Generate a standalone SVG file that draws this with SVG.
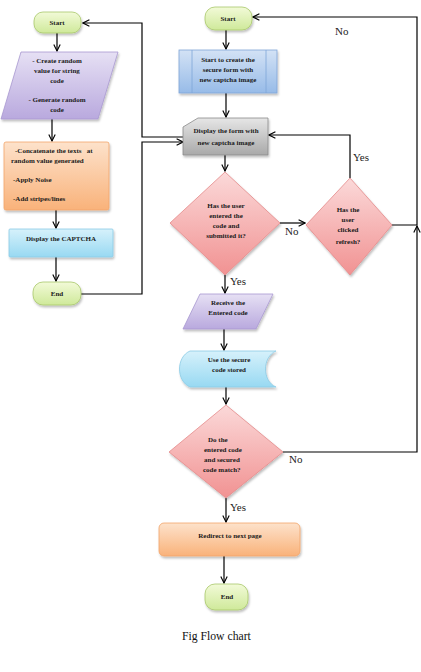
<svg xmlns="http://www.w3.org/2000/svg" width="421" height="672" viewBox="0 0 421 672">
<defs>
  <linearGradient id="gGreen" x1="0" y1="0" x2="0" y2="1"><stop offset="0" stop-color="#f2fad8"/><stop offset="1" stop-color="#cfe99a"/></linearGradient>
  <linearGradient id="gPurple" x1="0" y1="0" x2="0" y2="1"><stop offset="0" stop-color="#e6e0f4"/><stop offset="1" stop-color="#b9a9de"/></linearGradient>
  <linearGradient id="gOrange" x1="0" y1="0" x2="0" y2="1"><stop offset="0" stop-color="#fde2cb"/><stop offset="1" stop-color="#f9b27a"/></linearGradient>
  <linearGradient id="gCyan" x1="0" y1="0" x2="0" y2="1"><stop offset="0" stop-color="#d6f1fb"/><stop offset="1" stop-color="#98d9f2"/></linearGradient>
  <linearGradient id="gBlue" x1="0" y1="0" x2="0" y2="1"><stop offset="0" stop-color="#d3e2f5"/><stop offset="1" stop-color="#97bbe8"/></linearGradient>
  <linearGradient id="gGray" x1="0" y1="0" x2="0" y2="1"><stop offset="0" stop-color="#e6e6e6"/><stop offset="1" stop-color="#a9a9a9"/></linearGradient>
  <linearGradient id="gPink" x1="0" y1="0" x2="0" y2="1"><stop offset="0" stop-color="#fbd9d9"/><stop offset="1" stop-color="#f19292"/></linearGradient>
  <filter id="sh" x="-20%" y="-20%" width="140%" height="150%"><feDropShadow dx="1" dy="2" stdDeviation="1.2" flood-color="#000" flood-opacity="0.25"/></filter>
  <marker id="arr" viewBox="0 0 10 10" refX="9" refY="5" markerWidth="8" markerHeight="8" markerUnits="userSpaceOnUse" orient="auto">
    <path d="M1,1 L9,5 L1,9" fill="none" stroke="#000" stroke-width="1.4"/>
  </marker>
</defs>
<style>
  .t { font-family: "Liberation Serif", "Times New Roman", serif; font-weight: bold; font-size: 7px; fill: #1a1a1a; }
  .c { text-anchor: middle; }
  .lbl { font-family: "Liberation Serif", "Times New Roman", serif; font-size: 11px; fill: #222; }
  .cap { font-family: "Liberation Serif", "Times New Roman", serif; font-size: 11.7px; fill: #111; }
  .ln { fill: none; stroke: #000; stroke-width: 1.2; }
  .green { fill: url(#gGreen); stroke: #a8c86a; stroke-width: 0.8; filter: url(#sh); }
  .purple { fill: url(#gPurple); stroke: #a898d0; stroke-width: 0.8; filter: url(#sh); }
  .orange { fill: url(#gOrange); stroke: #f3a56a; stroke-width: 0.8; filter: url(#sh); }
  .cyan { fill: url(#gCyan); stroke: #8ccbe6; stroke-width: 0.8; filter: url(#sh); }
  .blue { fill: url(#gBlue); stroke: #7fa6d8; stroke-width: 0.8; filter: url(#sh); }
  .gray { fill: url(#gGray); stroke: #8a8a8a; stroke-width: 0.8; filter: url(#sh); }
  .pink { fill: url(#gPink); stroke: #e48a8a; stroke-width: 0.8; filter: url(#sh); }
</style>
<rect width="421" height="672" fill="#fff"/>

<g id="connectors">
  <path class="ln" d="M57,33 V51" marker-end="url(#arr)"/>
  <path class="ln" d="M52,119 V141" marker-end="url(#arr)"/>
  <path class="ln" d="M56,210 V228" marker-end="url(#arr)"/>
  <path class="ln" d="M56,257 V281" marker-end="url(#arr)"/>
  <path class="ln" d="M81,294 H142 V142 H183" marker-end="url(#arr)"/>
  <path class="ln" d="M183,137 H142 V23 H83" marker-end="url(#arr)"/>
  <path class="ln" d="M226,30 V49" marker-end="url(#arr)"/>
  <path class="ln" d="M226,93 V117" marker-end="url(#arr)"/>
  <path class="ln" d="M225,155 V171" marker-end="url(#arr)"/>
  <path class="ln" d="M280,223 H305" marker-end="url(#arr)"/>
  <path class="ln" d="M350,178 V135 H269" marker-end="url(#arr)"/>
  <path class="ln" d="M392,225 H417 V17 H253" marker-end="url(#arr)"/>
  <path class="ln" d="M283,452 H417 V226" marker-end="url(#arr)"/>
  <path class="ln" d="M225,275 V293" marker-end="url(#arr)"/>
  <path class="ln" d="M224,329 V350" marker-end="url(#arr)"/>
  <path class="ln" d="M226,387 V404" marker-end="url(#arr)"/>
  <path class="ln" d="M226,498 V522" marker-end="url(#arr)"/>
  <path class="ln" d="M224,556 V583" marker-end="url(#arr)"/>
  <text class="lbl" x="335" y="35">No</text>
  <text class="lbl" x="353" y="161">Yes</text>
  <text class="lbl" x="285" y="235">No</text>
  <text class="lbl" x="230" y="285">Yes</text>
  <text class="lbl" x="289" y="463">No</text>
  <text class="lbl" x="230" y="511">Yes</text>
</g>

<g id="start-left">
  <rect class="green" x="34" y="12" width="47" height="21" rx="9"/>
  <text class="t c" x="57" y="25">Start</text>
</g>
<g id="generate">
  <polygon class="purple" points="21,52 118,52 98,119 1,119"/>
  <text class="t c" x="57" y="63">- Create random</text>
  <text class="t c" x="57" y="73">value for string</text>
  <text class="t c" x="57" y="83">code</text>
  <text class="t c" x="57" y="102">- Generate random</text>
  <text class="t c" x="57" y="112">code</text>
</g>
<g id="concatenate">
  <rect class="orange" x="4" y="142" width="105" height="68" rx="2"/>
  <text class="t" x="15" y="153" xml:space="preserve">-Concatenate the texts   at</text>
  <text class="t" x="11" y="163">random value generated</text>
  <text class="t" x="13" y="182">-Apply Noise</text>
  <text class="t" x="13" y="201">-Add stripes/lines</text>
</g>
<g id="display-captcha">
  <rect class="cyan" x="9" y="229" width="104" height="28" rx="1"/>
  <text class="t c" x="61" y="241">Display the CAPTCHA</text>
</g>
<g id="end-left">
  <rect class="green" x="33" y="282" width="48" height="23" rx="10"/>
  <text class="t c" x="57" y="296">End</text>
</g>

<g id="start-right">
  <rect class="green" x="205" y="7" width="47" height="23" rx="10"/>
  <text class="t c" x="228" y="21">Start</text>
</g>
<g id="create-form">
  <rect class="blue" x="179" y="50" width="98" height="43"/>
  <line x1="192" y1="50" x2="192" y2="93" stroke="#7fa6d8" stroke-width="0.8"/>
  <line x1="266" y1="50" x2="266" y2="93" stroke="#7fa6d8" stroke-width="0.8"/>
  <text class="t c" x="228" y="62">Start to create the</text>
  <text class="t c" x="228" y="72">secure form with</text>
  <text class="t c" x="228" y="82">new captcha image</text>
</g>
<g id="display-form">
  <polygon class="gray" points="198,118 268,118 268,155 183,155 183,127"/>
  <text class="t c" x="226" y="133">Display the form with</text>
  <text class="t c" x="226" y="145">new captcha image</text>
</g>
<g id="submitted">
  <polygon class="pink" points="225,172 280,223 225,275 170,223"/>
  <text class="t c" x="226" y="208">Has the user</text>
  <text class="t c" x="226" y="218">entered the</text>
  <text class="t c" x="226" y="228">code and</text>
  <text class="t c" x="226" y="238">submitted it?</text>
</g>
<g id="refresh">
  <polygon class="pink" points="350,178 392,225 350,275 306,225"/>
  <text class="t c" x="348" y="212">Has the</text>
  <text class="t c" x="348" y="222">user</text>
  <text class="t c" x="348" y="232">clicked</text>
  <text class="t c" x="348" y="244">refresh?</text>
</g>
<g id="receive">
  <polygon class="purple" points="200,294 273,294 256,329 183,329"/>
  <text class="t c" x="228" y="305">Receive the</text>
  <text class="t c" x="228" y="315">Entered code</text>
</g>
<g id="stored">
  <path class="cyan" d="M190,351 H276 C262,357 262,381 276,387 H190 C176,381 176,357 190,351 Z"/>
  <text class="t c" x="229" y="362">Use the secure</text>
  <text class="t c" x="229" y="372">code stored</text>
</g>
<g id="match">
  <polygon class="pink" points="226,405 283,452 226,498 169,452"/>
  <text class="t" x="208" y="442">Do the</text>
  <text class="t" x="204" y="452">entered code</text>
  <text class="t" x="204" y="462">and secured</text>
  <text class="t" x="203" y="472">code match?</text>
</g>
<g id="redirect">
  <rect class="orange" x="159" y="523" width="141" height="33" rx="5"/>
  <text class="t c" x="230" y="538">Redirect to next page</text>
</g>
<g id="end-right">
  <rect class="green" x="205" y="584" width="43" height="26" rx="10"/>
  <text class="t c" x="227" y="599">End</text>
</g>

<text class="cap" x="182" y="640">Fig Flow chart</text>
</svg>
